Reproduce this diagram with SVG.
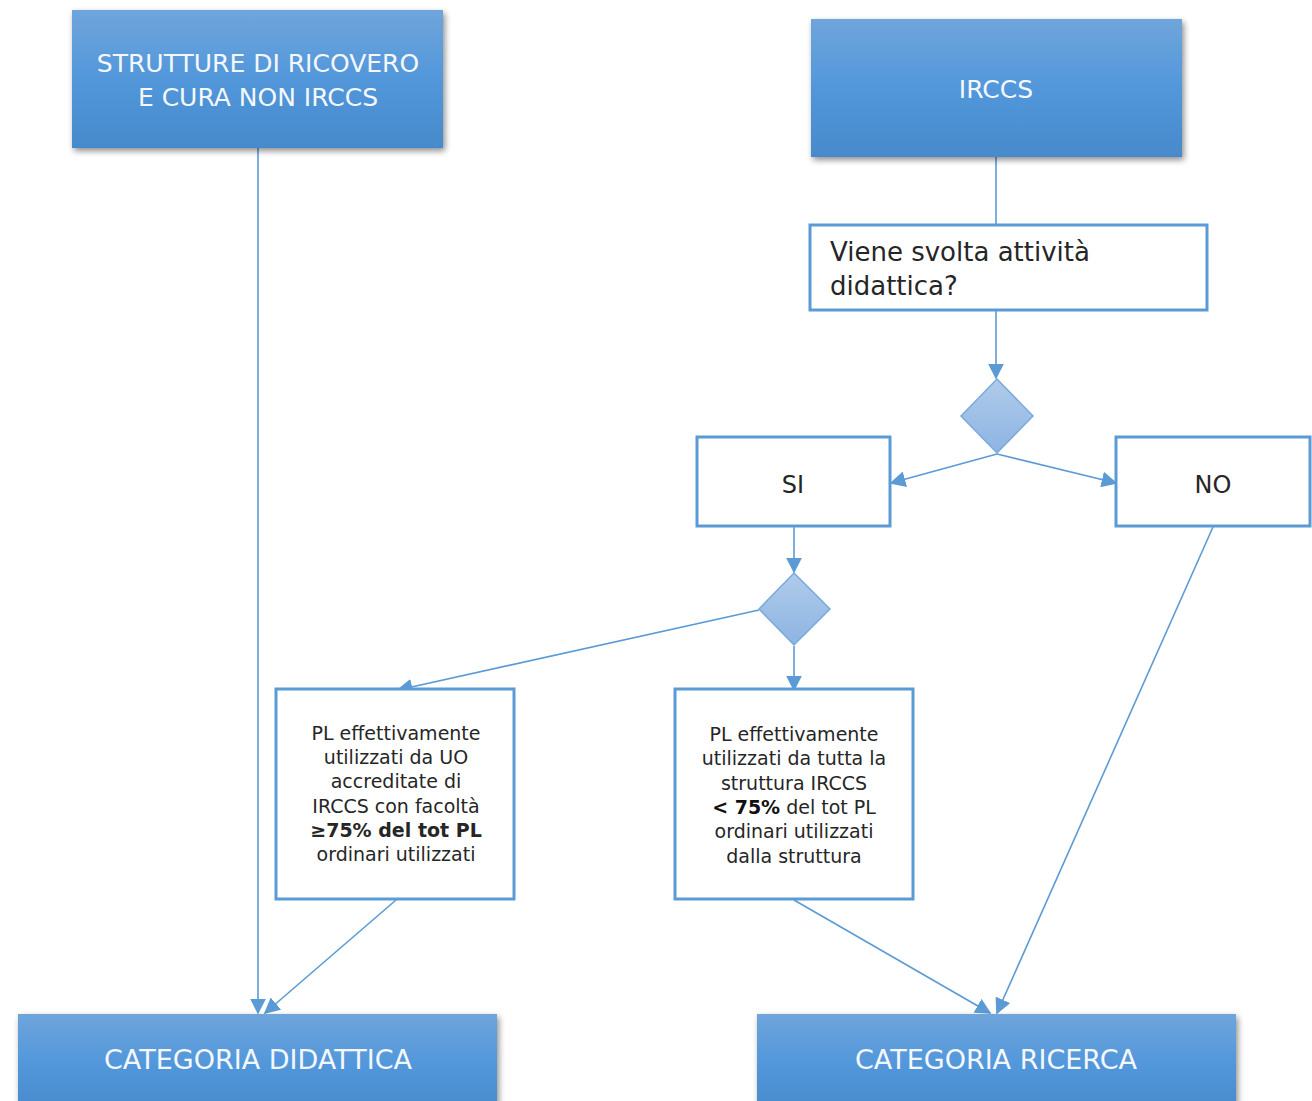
<svg xmlns="http://www.w3.org/2000/svg" width="1312" height="1101" viewBox="0 0 1312 1101">
<defs>
<linearGradient id="g" x1="0" y1="0" x2="0" y2="1">
<stop offset="0" stop-color="#6fa5db"/>
<stop offset="0.5" stop-color="#5297db"/>
<stop offset="1" stop-color="#478acb"/>
</linearGradient>
<linearGradient id="gd" x1="0" y1="0" x2="0" y2="1">
<stop offset="0" stop-color="#b0cbea"/>
<stop offset="1" stop-color="#8db4e2"/>
</linearGradient>
<filter id="sh" x="-5%" y="-10%" width="115%" height="125%">
<feGaussianBlur in="SourceAlpha" stdDeviation="3"/>
<feOffset dx="2" dy="3" result="b"/>
<feComponentTransfer><feFuncA type="linear" slope="0.45"/></feComponentTransfer>
<feMerge><feMergeNode/><feMergeNode in="SourceGraphic"/></feMerge>
</filter>
<marker id="arb" viewBox="0 0 10 10" refX="9" refY="5" markerWidth="16" markerHeight="16" markerUnits="userSpaceOnUse" orient="auto">
<path d="M0,0 L10,5 L0,10 Z" fill="#5b9bd5"/>
</marker>
</defs>
<style>
.bb{fill:url(#g);filter:url(#sh)}
.wb{fill:#fff;stroke:#5b9bd5;stroke-width:3}
.dm{fill:url(#gd);stroke:#7aa9dd;stroke-width:1.5}
.ln{stroke:#5b9bd5;stroke-width:1.6;fill:none}
.wt{font-family:"DejaVu Sans","Liberation Sans",sans-serif;fill:#f4f8fc;font-size:25px;text-anchor:middle}
.wt2{font-family:"DejaVu Sans","Liberation Sans",sans-serif;fill:#f4f8fc;font-size:27px;text-anchor:middle}
.dt{font-family:"DejaVu Sans","Liberation Sans",sans-serif;fill:#262626}
.st{font-size:19px;text-anchor:middle}
</style>
<g id="connectors">
<line class="ln" x1="258" y1="148" x2="258" y2="1013" marker-end="url(#arb)"/>
<line class="ln" x1="996" y1="157" x2="996" y2="225"/>
<line class="ln" x1="996" y1="310" x2="996" y2="378" marker-end="url(#arb)"/>
<line class="ln" x1="997" y1="454" x2="891" y2="483" marker-end="url(#arb)"/>
<line class="ln" x1="997" y1="454" x2="1116" y2="483" marker-end="url(#arb)"/>
<line class="ln" x1="794" y1="526" x2="794" y2="572" marker-end="url(#arb)"/>
<line class="ln" x1="759" y1="610" x2="398" y2="690" marker-end="url(#arb)"/>
<line class="ln" x1="794" y1="646" x2="794" y2="690" marker-end="url(#arb)"/>
<line class="ln" x1="396" y1="900" x2="265" y2="1013" marker-end="url(#arb)"/>
<line class="ln" x1="794" y1="900" x2="990" y2="1013" marker-end="url(#arb)"/>
<line class="ln" x1="1213" y1="527" x2="997" y2="1013" marker-end="url(#arb)"/>
</g>
<g id="n-strutture">
<rect class="bb" x="72" y="10" width="371" height="138"/>
<text class="wt" x="258" y="72">STRUTTURE DI RICOVERO</text>
<text class="wt" x="258" y="106">E CURA NON IRCCS</text>
</g>
<g id="n-irccs">
<rect class="bb" x="811" y="19" width="371" height="138"/>
<text class="wt" x="996" y="98">IRCCS</text>
</g>
<g id="n-viene">
<rect class="wb" x="810" y="225" width="397" height="85"/>
<text class="dt" x="830" y="261" font-size="26">Viene svolta attività</text>
<text class="dt" x="830" y="295" font-size="26">didattica?</text>
</g>
<g id="n-d1">
<polygon class="dm" points="997,379 1033,416 997,453 961,416"/>
</g>
<g id="n-si">
<rect class="wb" x="697" y="437" width="193" height="89"/>
<text class="dt" x="793" y="493" font-size="24" text-anchor="middle">SI</text>
</g>
<g id="n-no">
<rect class="wb" x="1116" y="437" width="194" height="89"/>
<text class="dt" x="1213" y="493" font-size="24" text-anchor="middle">NO</text>
</g>
<g id="n-d2">
<polygon class="dm" points="794,573 830,609 794,645 759,609"/>
</g>
<g id="n-left">
<rect class="wb" x="276" y="689" width="238" height="210"/>
<text class="dt st" x="396" y="740">PL effettivamente</text>
<text class="dt st" x="396" y="764">utilizzati da UO</text>
<text class="dt st" x="396" y="788">accreditate di</text>
<text class="dt st" x="396" y="813">IRCCS con facoltà</text>
<text class="dt st" x="396" y="837" font-weight="bold" fill="#111">≥75% del tot PL</text>
<text class="dt st" x="396" y="861">ordinari utilizzati</text>
</g>
<g id="n-right">
<rect class="wb" x="675" y="689" width="238" height="210"/>
<text class="dt st" x="794" y="741">PL effettivamente</text>
<text class="dt st" x="794" y="765">utilizzati da tutta la</text>
<text class="dt st" x="794" y="790">struttura IRCCS</text>
<text class="dt st" x="794" y="814"><tspan font-weight="bold" fill="#111">&lt; 75%</tspan> del tot PL</text>
<text class="dt st" x="794" y="838">ordinari utilizzati</text>
<text class="dt st" x="794" y="863">dalla struttura</text>
</g>
<g id="n-didattica">
<rect class="bb" x="18" y="1014" width="479" height="100"/>
<text class="wt2" x="258" y="1069">CATEGORIA DIDATTICA</text>
</g>
<g id="n-ricerca">
<rect class="bb" x="757" y="1014" width="479" height="100"/>
<text class="wt2" x="996" y="1069">CATEGORIA RICERCA</text>
</g>
</svg>
